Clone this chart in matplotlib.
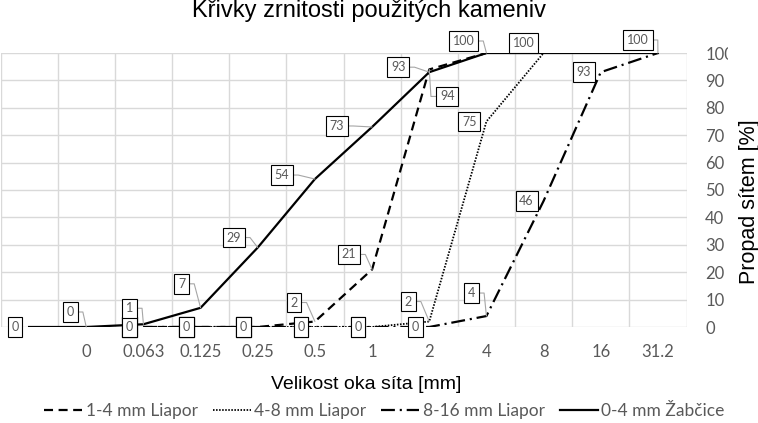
import matplotlib
matplotlib.use("Agg")
import matplotlib.pyplot as plt
import numpy as np
from matplotlib.transforms import Bbox

plt.rcParams["font.family"] = ["Lato", "DejaVu Sans"]
plt.rcParams["lines.scale_dashes"] = False

W, H = 758, 423
nan = np.nan

# ---- data (sieve analysis, % passing) ---- #
sieves = ["", "0", "0.063", "0.125", "0.25", "0.5", "1", "2", "4", "8", "16", "31.2"]
liapor_1_4 = [nan, nan, 0, 0, 0, 2, 21, 94, 100, nan, nan, nan]
liapor_4_8 = [nan, nan, 0, 0, 0, 0, 0, 2, 75, 100, nan, nan]
liapor_8_16 = [nan, nan, 0, 0, 0, 0, 0, 0, 4, 46, 93, 100]
zabcice_0_4 = [0, 0, 1, 7, 29, 54, 73, 93, 100, 100, 100, 100]
names = ["1-4 mm Liapor", "4-8 mm Liapor", "8-16 mm Liapor", "0-4 mm Žabčice"]

# data-label placement (offset in pixels, leader line on/off)
Z = (-14, 0, False)
lab_1_4 = [None, None, Z, Z, Z, (-21, 19, True), (-23, 15, True), (18, -27, True),
           None, None, None, None]
lab_4_8 = [None, None, Z, Z, Z, Z, Z, (-21, 20, True), (-17, 0, False), (-20, 10, False),
           None, None]
lab_8_16 = [None, None, Z, Z, Z, Z, Z, Z, (-15, 23, True), (-17, 0, False),
            (-17, 0, False), (-20, 13, True)]
lab_0_4 = [(-14, 0, False), (-16, 15, True), (-14, 16, True), (-19, 24, True),
           (-24, 10, True), (-33, 4, True), (-35, 1, True), (-31, 5, True),
           (-23, 12, True), None, None, None]

styles = [dict(lw=1.6, dashes=(6.5, 4)),
          dict(lw=1.3, dashes=(1.1, 1.1)),
          dict(lw=1.6, dashes=(10, 3.5, 1.5, 3.5)),
          dict(lw=1.6, ls="-")]

fig = plt.figure(figsize=(W / 100, H / 100), dpi=100)
ax = fig.add_axes([0.5 / W, (H - 327) / H, 686 / W, 274 / H])
x = np.arange(len(sieves)) + 0.5

series = [liapor_1_4, liapor_4_8, liapor_8_16, zabcice_0_4]
labels = [lab_1_4, lab_4_8, lab_8_16, lab_0_4]
for vals, name, st in zip(series, names, styles):
    ax.plot(x, vals, color="black", label=name, zorder=3, **st)

for vals, labs in zip(series, labels):
    for xi, v, lb in zip(x, vals, labs):
        if lb is None or np.isnan(v):
            continue
        dx, dy, leader = lb
        kw = {}
        if leader:
            right = dx < 0
            kw["arrowprops"] = dict(
                arrowstyle="-", color="#a6a6a6", lw=0.8,
                relpos=(1, 0.5) if right else (0, 0.5),
                connectionstyle=f"arc,angleA={0 if right else 180},armA=9,angleB=0,armB=0,rad=0",
                shrinkA=0, shrinkB=0)
        ax.annotate(f"{v:g}", (xi, v), xytext=(dx, dy), textcoords="offset pixels",
                    ha="center", va="center", fontsize=9, color="#595959", zorder=5,
                    bbox=dict(boxstyle="square,pad=0.3", fc="white", ec="black", lw=0.8),
                    **kw)

ax.set_xlim(0, len(sieves))
ax.set_ylim(0, 100)
ax.set_xticks(x)
ax.set_xticklabels(sieves)
ax.set_xticks(np.arange(len(sieves) + 1), minor=True)
ax.set_yticks(np.arange(0, 101, 10))
ax.yaxis.tick_right()
ax.tick_params(axis="both", which="both", length=0, labelsize=12, labelcolor="#595959")
ax.tick_params(axis="x", pad=12)
ax.tick_params(axis="y", pad=13.5)
ax.grid(axis="x", which="minor", color="#d9d9d9", lw=1)
ax.grid(axis="y", which="major", color="#d9d9d9", lw=1)
for s in ax.spines.values():
    s.set_visible(False)

clip = Bbox.from_extents(0, 0, 728, H)
for t in ax.get_yticklabels():
    t.set_clip_box(clip)
    t.set_clip_on(True)

fig.text(368.5 / W, 1 - 17 / H, "Křivky zrnitosti použitých kameniv", family="Liberation Sans",
         fontsize=17, ha="center", va="baseline", color="black")
fig.text(366 / W, 1 - 384 / H, "Velikost oka síta [mm]", family="Liberation Sans",
         fontsize=14, ha="center", va="center", color="black")
fig.text(749 / W, 1 - 202 / H, "Propad sítem [%]", family="Liberation Sans",
         fontsize=15.5, ha="center", va="center", rotation=90, color="black")

ax.legend(loc="center", bbox_to_anchor=(384.5 / W, 1 - 411 / H), bbox_transform=fig.transFigure,
          ncol=4, frameon=False, fontsize=12.5, labelcolor="#595959",
          handlelength=2.2, handletextpad=0.2, columnspacing=0.85, borderpad=0)

fig.savefig("out.png", dpi=100)
